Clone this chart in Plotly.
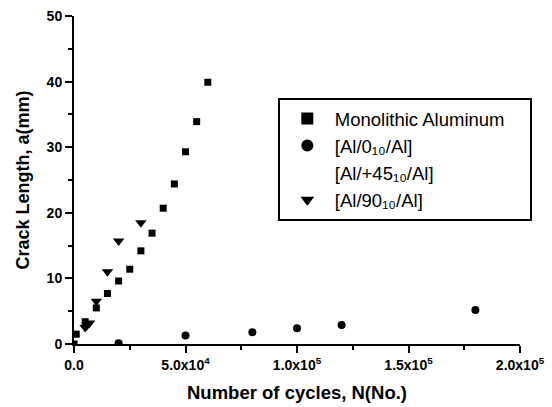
import plotly.graph_objects as go

mono_n = [0, 1000, 5000, 10000, 15000, 20000, 25000, 30000, 35000, 40000, 45000, 50000, 55000, 60000]
mono_a = [0.0, 1.5, 3.4, 5.5, 7.7, 9.6, 11.4, 14.2, 16.9, 20.7, 24.4, 29.3, 33.9, 39.9]

zero_n = [20000, 50000, 80000, 100000, 120000, 180000]
zero_a = [0.1, 1.3, 1.8, 2.4, 2.9, 5.2]

p45_n = []
p45_a = []

ninety_n = [5000, 6000, 7000, 10000, 15000, 20000, 30000]
ninety_a = [2.5, 2.9, 3.2, 6.5, 11.0, 15.7, 18.5]

x_tickvals = [0, 50000, 100000, 150000, 200000]
x_ticktext = ["0.0", "5.0x10<sup>4</sup>", "1.0x10<sup>5</sup>", "1.5x10<sup>5</sup>", "2.0x10<sup>5</sup>"]
y_tickvals = [0, 10, 20, 30, 40, 50]

names = ["Monolithic Aluminum", "[Al/0\u2081\u2080/Al]", "[Al/+45\u2081\u2080/Al]", "[Al/90\u2081\u2080/Al]"]

FONT = "Liberation Sans, Arial, sans-serif"

fig = go.Figure()
fig.add_trace(go.Scatter(x=mono_n, y=mono_a, mode="markers", name=names[0],
                         marker=dict(symbol="square", size=7, color="black")))
fig.add_trace(go.Scatter(x=zero_n, y=zero_a, mode="markers", name=names[1],
                         marker=dict(symbol="circle", size=8, color="black")))
fig.add_trace(go.Scatter(x=p45_n if p45_n else [None], y=p45_a if p45_a else [None], mode="markers", name=names[2],
                         marker=dict(symbol="triangle-up", size=9, color="rgba(0,0,0,0)")))
fig.add_trace(go.Scatter(x=ninety_n, y=ninety_a, mode="markers", name=names[3],
                         marker=dict(symbol="triangle-down", size=10, color="black")))

fig.update_layout(
    width=552, height=407,
    margin=dict(l=74, r=32, t=16, b=63, autoexpand=False),
    paper_bgcolor="white", plot_bgcolor="white",
    font=dict(family=FONT, color="black"),
    legend=dict(x=0.457, y=0.75, xanchor="left", yanchor="top", orientation="h",
                bordercolor="black", borderwidth=2, bgcolor="white",
                font=dict(size=18.5, family=FONT), itemsizing="constant", itemwidth=45,
                entrywidth=190, entrywidthmode="pixels"),
    xaxis=dict(range=[0, 200000], tickvals=x_tickvals, ticktext=x_ticktext, automargin=False,
               showgrid=False, zeroline=False, showline=True, linecolor="black", linewidth=2,
               ticks="outside", ticklen=7, tickwidth=2, tickcolor="black",
               minor=dict(ticks="outside", ticklen=4, tickwidth=2, tickcolor="black", dtick=25000),
               tickfont=dict(size=14, family=FONT, weight="bold"),
               title=dict(text="<b>Number of cycles, N(No.)</b>", font=dict(size=18.5, family=FONT), standoff=14)),
    yaxis=dict(range=[0, 50], tickvals=y_tickvals, automargin=False,
               showgrid=False, zeroline=False, showline=True, linecolor="black", linewidth=2,
               ticks="outside", ticklen=7, tickwidth=2, tickcolor="black",
               minor=dict(ticks="outside", ticklen=4, tickwidth=2, tickcolor="black", dtick=5),
               tickfont=dict(size=14, family=FONT, weight="bold"),
               title=dict(text="<b>Crack Length, a(mm)</b>", font=dict(size=18, family=FONT), standoff=12)),
)

fig.write_html("out.html", config={"displayModeBar": False},
               post_script="document.body.style.margin='0px';document.body.style.overflow='hidden';")
